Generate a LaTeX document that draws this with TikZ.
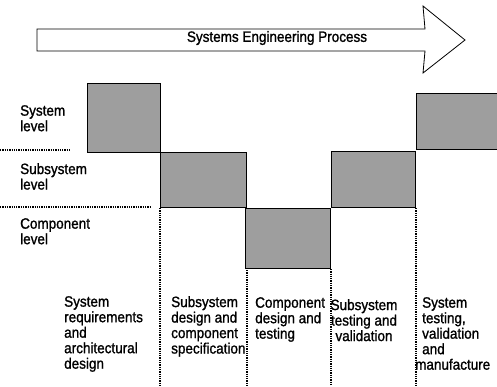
\documentclass[tikz,border=0pt]{standalone}
\usepackage{fontspec}
\setmainfont{Liberation Sans}[FakeStretch=0.9,FakeBold=1.2]
\begin{document}
\begin{tikzpicture}[x=1pt,y=-1pt,
  fase/.style={draw,line width=.9pt,fill=black!38,anchor=north west,inner sep=0pt},
  etich/.style={anchor=north west,align=left,inner sep=0pt},
  separ/.style={densely dotted,line width=1.3pt}]

\clip (0,0) rectangle (497,386);
\fill[white] (0,0) rectangle (497,386);

\draw[line width=.8pt] (37,29) -- (425,29) -- (423,6) -- (465,40) -- (423,73)
  -- (425,51) -- (37,51) -- cycle; % freccia
\node (proc) at (277,38) {\fontsize{15}{16}\selectfont Systems Engineering Process};

\node[fase,minimum width=73,minimum height=69] (a) at (87,83) {};
\node[fase,minimum width=86,minimum height=55] (b) at (160,152) {};
\node[fase,minimum width=85,minimum height=60] (c) at (245,208) {};
\node[fase,minimum width=84,minimum height=56] (d) at (331,151) {};
\node[fase,minimum width=84,minimum height=56] (e) at (416,93) {};

\coordinate (l1) at (0,150);
\coordinate (l2) at (0,207);
\coordinate (l1e) at (70,150);
\coordinate (l2e) at (150,207);

\draw[separ] (l1) -- (l1e); % livelli
\draw[separ] (l2) -- (l2e);
\draw[separ] (b.south west) -- (b.south west |- 0,386);
\draw[separ] (b.south east) -- (b.south east |- 0,386);
\draw[separ] (c.south east) -- (c.south east |- 0,386);
\draw[separ] (d.south east) -- (d.south east |- 0,386);
\draw[fase] (c.north west) rectangle (c.south east); % ridisegno sopra

\begin{scope}[font=\fontsize{15}{15.5}\selectfont]
  \node[etich] (s) at (20,105) {System\\level};
  \node[etich] (ss) at (20,163) {Subsystem\\level};
  \node[etich] (cc) at (20,218) {Component\\level};

  \node[etich] (f1) at (64,296) {System\\requirements\\and\\architectural\\design};
  \node[etich] (f2) at (171,296) {Subsystem\\design and\\component\\specification};
  \node[etich] (f3) at (255,297) {Component\\design and\\testing};
  \node[anchor=north,align=center,inner sep=0pt] (f4) at (364,299) {Subsystem\\testing and\\validation};
  \node[etich] (f5) at (422,297) {System\\testing,\\validation\\and\\\hspace*{-7pt}manufacture};
\end{scope}

\end{tikzpicture}
\end{document}
